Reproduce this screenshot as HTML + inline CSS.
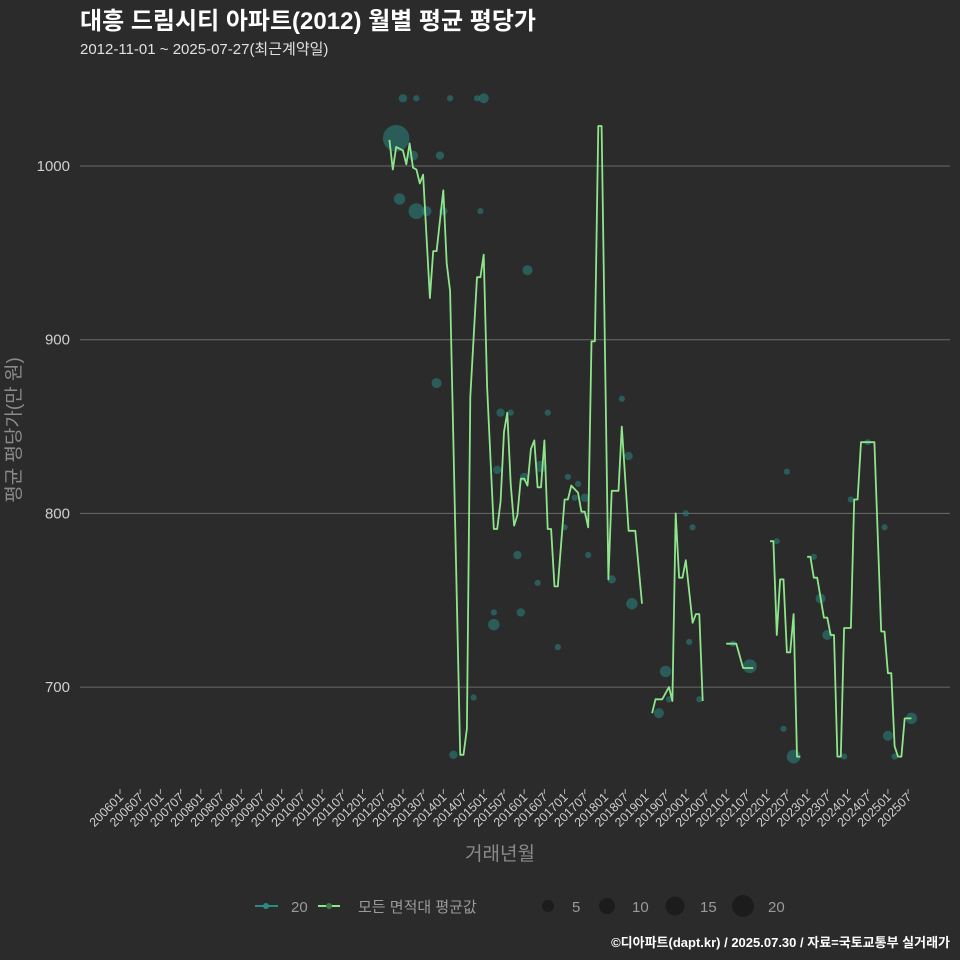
<!DOCTYPE html>
<html><head><meta charset="utf-8">
<style>
html,body{margin:0;padding:0;background:#2b2b2c;}
svg{display:block;font-family:"Liberation Sans","Noto Sans CJK KR",sans-serif;}
</style></head>
<body>
<svg id="chart" width="960" height="960" viewBox="0 0 960 960">
<rect width="960" height="960" fill="#2b2b2c"/>
<text x="80" y="29" font-size="24" font-weight="bold" fill="#ffffff">대흥 드림시티 아파트(2012) 월별 평균 평당가</text>
<text x="80" y="54" font-size="15" fill="#e0e0e0">2012-11-01 ~ 2025-07-27(최근계약일)</text>
<g id="grid"></g>
<g id="bubbles"></g>
<g id="lines"></g>
<g id="yaxis"></g>
<g id="xaxis"></g>
<text transform="translate(20,430) rotate(-90)" text-anchor="middle" font-size="19" fill="#8a8a8a">평균 평당가(만 원)</text>
<text x="500" y="860" text-anchor="middle" font-size="19" fill="#8a8a8a">거래년월</text>
<g>
 <g>
  <line x1="255" y1="906" x2="278" y2="906" stroke="#2a8a86" stroke-width="2"/>
  <circle cx="266" cy="906" r="3" fill="#2a8a86"/>
  <text x="291" y="912" font-size="15" fill="#9a9a9a">20</text>
 </g>
 <g>
  <line x1="318" y1="906" x2="340" y2="906" stroke="#8ee68a" stroke-width="2"/>
  <circle cx="329" cy="906" r="3" fill="#3f7a4a"/>
  <text x="358" y="912" font-size="15" fill="#9a9a9a">모든 면적대 평균값</text>
 </g>
 <g>
  <circle cx="548" cy="906" r="6" fill="#1c1c1c"/><text x="572" y="912" font-size="15" fill="#9a9a9a">5</text>
  <circle cx="607" cy="906" r="8" fill="#1c1c1c"/><text x="632" y="912" font-size="15" fill="#9a9a9a">10</text>
  <circle cx="675" cy="906" r="9.5" fill="#1c1c1c"/><text x="700" y="912" font-size="15" fill="#9a9a9a">15</text>
  <circle cx="743" cy="906" r="11" fill="#1c1c1c"/><text x="768" y="912" font-size="15" fill="#9a9a9a">20</text>
 </g>
</g>
<text x="950" y="947" text-anchor="end" font-size="13" font-weight="bold" fill="#ffffff">©디아파트(dapt.kr) / 2025.07.30 / 자료=국토교통부 실거래가</text>
</svg>
<script>
// months since 2006-01; null month = gap
const lineMonths = [80,81,82,84,85,86,87,88,89,90,92,93,94,96,97,98,101,102,103,104,106,107,108,109,111,112,113,114,115,116,117,118,119,120,121,122,123,124,125,126,127,128,129,130,132,133,134,136,137,138,139,140,141,142,143,145,146,148,149,151,153,155,null,
158,159,161,163,164,165,166,167,168,170,171,172,173,null,180,183,185,188,null,
193,194,195,196,197,198,199,200,201,202,null,
204,205,206,207,209,210,211,212,213,214,215,217,218,219,220,224,226,227,228,229,230,231,232,233,235];
const lineValues = [1015,998,1011,1009,1001,1013,999,998,990,995,924,951,951,986,944,928,661,661,676,867,936,936,949,873,791,791,807,847,858,817,793,799,820,820,816,837,842,815,815,842,791,791,758,758,808,808,816,812,801,801,792,899,899,1023,1023,762,813,813,850,790,790,748,null,
685,693,693,700,692,800,763,763,773,737,742,742,692,null,725,725,711,711,null,
784,784,730,762,762,720,720,742,660,660,null,
775,775,763,763,740,740,730,730,660,660,734,734,808,808,841,841,732,732,708,708,666,660,660,682,682];
const bubbleMonths = [84,88,98,106,108,82,87,95,83,88,91,96,107,121,94,113,116,127,149,151,112,125,120,133,136,135,138,132,118,139,124,146,152,111,119,111,130,105,99,198,168,170,227,195,206,217,222,208,210,169,182,187,162,163,172,160,197,228,235,200,215,230];
const bubbleValues = [1039,1039,1039,1039,1039,1016,1006,1006,981,974,974,974,974,940,875,858,858,858,866,833,825,827,821,821,817,809,809,792,776,776,760,762,748,743,743,736,723,694,661,824,800,792,792,784,775,808,841,751,730,726,725,712,709,693,693,685,676,672,682,660,660,660];
const bubbleCounts = [2,1,1,1,3,24,3,2,4,8,3,2,1,3,3,2,1,1,1,2,2,4,2,1,1,1,2,1,2,1,1,2,4,1,2,4,1,1,2,1,1,1,1,1,1,1,1,3,3,1,1,6,4,1,1,3,1,3,4,6,1,1];
const yTicks = [700,800,900,1000];
const xTickLabels = [];
for (let y=2006;y<=2025;y++){ xTickLabels.push(y+'01'); xTickLabels.push(y+'07'); }

const X0=120, PXM=3.368;
function xScale(m){ return X0 + m*PXM; }
function yScale(v){ return 166 + (1000-v)*1.737; }
const NS='http://www.w3.org/2000/svg';
function mk(tag, attrs, parent){ const e=document.createElementNS(NS,tag); for(const k in attrs) e.setAttribute(k,attrs[k]); parent.appendChild(e); return e; }

const grid=document.getElementById('grid'), yaxis=document.getElementById('yaxis');
yTicks.forEach(v=>{
  const l=mk('line',{x1:80,x2:950,y1:yScale(v),y2:yScale(v),stroke:'#6a6a6a','stroke-width':1},grid);
  
  
  const t=mk('text',{x:70,y:yScale(v)+5,'text-anchor':'end','font-size':15,fill:'#cfcfcf'},yaxis);
  t.textContent=v;
  
  
});

const xaxis=document.getElementById('xaxis');
xTickLabels.forEach((lab,i)=>{
  const x=xScale(i*6);
  const tk=mk('line',{x1:x,x2:x,y1:789,y2:794,stroke:'#aaaaaa','stroke-width':1},xaxis);
  
  
  const t=mk('text',{transform:`translate(${x+4},${798}) rotate(-45)`,'text-anchor':'end','font-size':12.5,fill:'#cfcfcf'},xaxis);
  t.textContent=lab;
  
  
});

const bub=document.getElementById('bubbles');
bubbleMonths.forEach((m,i)=>{
  const c=mk('circle',{cx:xScale(m),cy:yScale(bubbleValues[i]),r:2.6*Math.sqrt(bubbleCounts[i])+0.5,fill:'#2a7f78','fill-opacity':0.6},bub);
  
  
});

const lines=document.getElementById('lines');
let seg=[];
function flush(){
  if(seg.length){
    const p=mk('polyline',{points:seg.join(' '),fill:'none',stroke:'#8ee68a','stroke-width':1.8,'stroke-linejoin':'round'},lines);
    
    
  }
  seg=[];
}
lineMonths.forEach((m,i)=>{
  if(m===null||lineValues[i]===null){flush();return;}
  seg.push(xScale(m).toFixed(1)+','+yScale(lineValues[i]).toFixed(1));
});
flush();
</script>
</body></html>
